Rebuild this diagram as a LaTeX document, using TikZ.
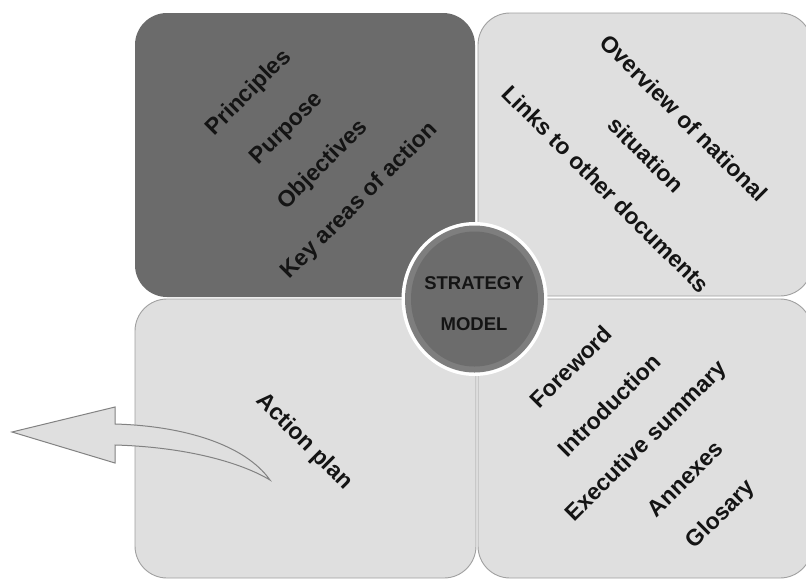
\documentclass[tikz,border=0pt]{standalone}
\usepackage{fontspec}
\setmainfont{Liberation Sans}
\usetikzlibrary{shapes.geometric}
\definecolor{darkq}{RGB}{107,107,107}
\definecolor{lightq}{RGB}{223,223,223}
\definecolor{edgeq}{RGB}{160,160,160}
\definecolor{ringq}{RGB}{126,126,126}
\definecolor{coreq}{RGB}{108,108,108}
\definecolor{arrowedge}{RGB}{130,130,130}
\tikzset{
  quad/.style={rectangle, rounded corners=32pt, inner sep=0pt, outer sep=0pt},
  lightquad/.style={quad, fill=lightq, draw=edgeq, line width=0.9pt},
  darkquad/.style={quad, fill=darkq},
  lbl/.style={font=\bfseries\fontsize{23}{27}\selectfont, text=black!92, inner sep=0pt},
  ctr/.style={font=\bfseries\fontsize{18.5}{22}\selectfont, text=black!92, inner sep=0pt},
  disc/.style={ellipse, inner sep=0pt, outer sep=0pt}
}
\begin{document}
\begin{tikzpicture}[x=1pt,y=-1pt]
\useasboundingbox (0,0) rectangle (806,579);
\clip (0,0) rectangle (806,579);
\fill[white] (0,0) rectangle (806,579);
% quadrants
\node[darkquad, minimum width=340pt, minimum height=284pt] (tl) at (305,155) {};
\node[lightquad, minimum width=334pt, minimum height=283pt] (tr) at (645,154.5) {};
\node[lightquad, minimum width=341pt, minimum height=279pt] (bl) at (305.5,438.5) {};
\node[lightquad, minimum width=334pt, minimum height=279pt] (br) at (645,438.5) {};
% top-left texts
\node[lbl, rotate=45] (t1) at (249,93) {Principles};
\node[lbl, rotate=45] (t2) at (287,129) {Purpose};
\node[lbl, rotate=45] (t3) at (323,165) {Objectives};
\node[lbl, rotate=45] (t4) at (360,201) {Key areas of action};
% top-right texts
\node[lbl, rotate=-45] (r1) at (684,118) {Overview of national};
\node[lbl, rotate=-45] (r2) at (646,155) {situation};
\node[lbl, rotate=-45] (r3) at (606,189) {Links to other documents};
% bottom-left
\node[lbl, rotate=-45] (ap) at (304,442) {Action plan};
% bottom-right texts
\node[lbl, rotate=45] (b1) at (571,367) {Foreword};
\node[lbl, rotate=45] (b2) at (609,405) {Introduction};
\node[lbl, rotate=45] (b3) at (647,442) {Executive summary};
\node[lbl, rotate=45] (b4) at (685,479) {Annexes};
\node[lbl, rotate=45] (b5) at (721,515) {Glosary};
% curved arrow
\filldraw[fill=lightq, draw=arrowedge, line width=1pt, line join=miter]
  (12,432) -- (115,407) -- (115,424)
  .. controls (185,426) and (245,445) .. (270,480)
  .. controls (240,462) and (185,447) .. (115,445)
  -- (115,463) -- cycle;
% centre disc
\node[disc, fill=white, minimum width=146pt, minimum height=154pt] (cw) at (474.5,299) {};
\node[disc, fill=ringq, minimum width=139pt, minimum height=147pt] (cr) at (cw.center) {};
\node[disc, fill=coreq, minimum width=127pt, minimum height=135pt] (ci) at (cw.center) {};
\node[ctr] (s1) at (474,283) {STRATEGY};
\node[ctr] (s2) at (474,324) {MODEL};
\end{tikzpicture}
\end{document}
